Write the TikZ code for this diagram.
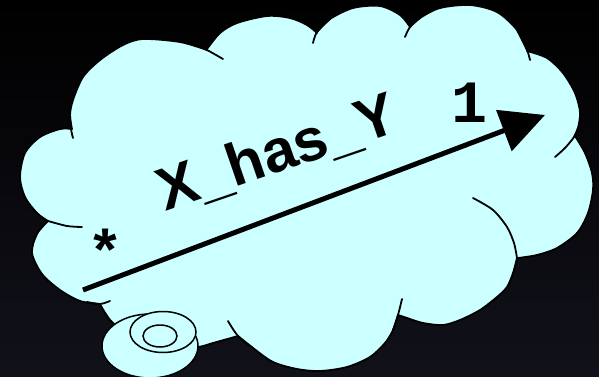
\documentclass[tikz,border=0pt]{standalone}
\usepackage{fontspec}
\setmainfont{Liberation Sans}
\newfontfamily\monofont{Liberation Mono}
\usetikzlibrary{arrows.meta, positioning, shapes.geometric}
\definecolor{CloudCyan}{HTML}{CCFFFF}
\definecolor{NightBlue}{RGB}{17,17,26}

\begin{document}
\begin{tikzpicture}[
      x = 1pt, y = -1pt,
      cloud/.style={
        draw = black,
        fill = CloudCyan,
        line width = 1.8pt,
        line join = round,
      },
      fold/.style={
        draw = black,
        line width = 1.8pt,
        line cap = round,
      },
      bubble/.style={
        ellipse,
        draw = black,
        fill = CloudCyan,
        line width = 1.5pt,
        inner sep = 0pt,
      },
      role/.style={
        font = \fontsize{60}{60}\selectfont\bfseries,
        anchor = base,
        inner sep = 0pt,
      },
      mult/.style={
        font = \fontsize{60}{60}\selectfont\monofont\bfseries,
        anchor = base,
        inner sep = 0pt,
      },
      link/.style={
        -{Triangle[length = 44pt, width = 43pt]},
        line width = 5pt,
      },
    ]
    \shade[top color = black, middle color = black, bottom color = NightBlue]
      (0,0) rectangle (599,377);
    \useasboundingbox (0,0) rectangle (599,377);

    \path[cloud]
      plot[smooth] coordinates {(100,304) (80,301) (60,290) (42,274) (32,253) (37,234) (48,221)}
      -- plot[smooth] coordinates {(48,221) (37,213) (25,197) (20,177) (25,153) (40,137) (60,129) (72,129)}
      -- plot[smooth] coordinates {(72,129) (70,115) (73,100) (83,77) (100,60) (123,45) (143,39) (180,42) (207,50)}
      -- plot[smooth] coordinates {(207,49) (220,33) (237,23) (267,16) (290,18) (307,25) (317,33)}
      -- plot[smooth] coordinates {(317,32) (330,19) (353,8) (380,6) (400,15) (410,27)}
      -- plot[smooth] coordinates {(410,27) (420,18) (440,8) (470,5) (497,12) (517,30) (527,50)}
      -- plot[smooth] coordinates {(527,51) (547,58) (563,73) (575,93) (580,112) (578,128) (574,137)}
      -- plot[smooth] coordinates {(575,136) (585,153) (592,173) (593,190) (588,213) (577,233) (557,248) (537,255) (518,258)}
      -- plot[smooth] coordinates {(517,258) (513,273) (507,287) (497,297) (480,310) (460,320) (443,325) (423,323) (407,318) (398,315)}
      -- plot[smooth] coordinates {(398,315) (393,330) (385,343) (370,357) (347,367) (320,371) (297,369) (273,362) (253,348) (238,336)}
      -- plot[smooth] coordinates {(238,336) (213,343) (197,347) (170,345) (140,338) (113,323) (100,304)}
      -- cycle;

    \draw[fold] plot[smooth] coordinates {(48,221) (67,226) (82,227)};
    \draw[fold] plot[smooth] coordinates {(87,302) (100,304) (110,301)};
    \draw[fold] plot[smooth] coordinates {(70,115) (71,129) (73,138)};
    \draw[fold] plot[smooth] coordinates {(195,45) (207,50) (223,59)};
    \draw[fold] plot[smooth] coordinates {(330,19) (317,32) (313,43)};
    \draw[fold] plot[smooth] coordinates {(420,18) (410,27) (405,37)};
    \draw[fold] plot[smooth] coordinates {(517,30) (527,50) (530,60)};
    \draw[fold] plot[smooth] coordinates {(578,128) (574,137) (565,148) (555,157)};
    \draw[fold] plot[smooth] coordinates {(473,198) (493,210) (507,227) (514,243) (517,258)};
    \draw[fold] plot[smooth] coordinates {(393,330) (398,315) (402,299)};
    \draw[fold] plot[smooth] coordinates {(253,348) (238,336) (228,321)};

    \node[bubble, minimum width = 96pt, minimum height = 64pt] (bubble) at (150,346) {};
    \node[bubble, minimum width = 66pt, minimum height = 41pt] (ring) at (163,332) {};
    \node[bubble, minimum width = 34pt, minimum height = 22pt] (hole) at (160,336) {};

    \coordinate (tail) at (83,290);
    \coordinate (head) at (545,115);
    \draw[link] (tail) -- (head);

    \node[role, rotate = 19] (name) at (283.5,171) {X\_has\_Y};
    \node[mult] (many) at (106,272) {*};
    \node[mult] (one) at (469,122) {1};
  \end{tikzpicture}
\end{document}
